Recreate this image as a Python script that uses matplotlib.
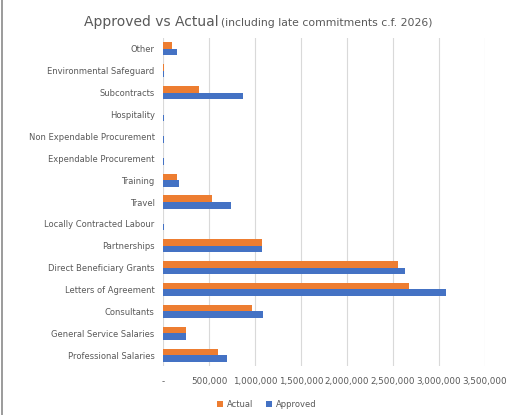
import matplotlib
matplotlib.use("Agg")
import matplotlib.pyplot as plt
import numpy as np
from matplotlib.ticker import FuncFormatter
from matplotlib.lines import Line2D

categories = ["Other", "Environmental Safeguard", "Subcontracts", "Hospitality",
              "Non Expendable Procurement", "Expendable Procurement", "Training",
              "Travel", "Locally Contracted Labour", "Partnerships",
              "Direct Beneficiary Grants", "Letters of Agreement", "Consultants",
              "General Service Salaries", "Professional Salaries"]
actual = [95000, 6000, 395000, 5000, 5000, 5000, 155000, 529000, 5000,
          1073000, 2551000, 2670000, 964000, 247000, 594000]
approved = [155000, 8000, 873000, 6000, 6000, 6000, 177000, 739000, 6000,
            1073000, 2630000, 3073000, 1083000, 247000, 699000]
xticks = [0, 500000, 1000000, 1500000, 2000000, 2500000, 3000000, 3500000]

c_act = "#ED7D31"
c_app = "#4472C4"
txt = "#595959"

fig = plt.figure(figsize=(5.13, 4.15), dpi=100)
ax = fig.add_axes([163/513, 1-366/415, (485-163)/513, (366-38)/415])

n = len(categories)
y = np.arange(n)
h = 0.3
ax.barh(y - h/2, actual, height=h, color=c_act, label="Actual", zorder=3)
ax.barh(y + h/2, approved, height=h, color=c_app, label="Approved", zorder=3)

ax.set_ylim(n - 0.5, -0.5)
ax.set_yticks(y)
ax.set_yticklabels(categories, fontsize=6, color=txt)
ax.set_xlim(0, 3500000)
ax.set_xticks(xticks)
ax.xaxis.set_major_formatter(FuncFormatter(lambda v, p: "-" if v == 0 else f"{int(v):,}"))
ax.tick_params(axis="x", labelsize=6.3, colors=txt, length=0, pad=8)
ax.tick_params(axis="y", length=0, pad=6)
ax.grid(axis="x", color="#d9d9d9", linewidth=0.8, zorder=0)
for s in ax.spines.values():
    s.set_visible(False)

fig.text(219/513, 0.947, "Approved vs Actual", fontsize=10, color=txt, ha="right", va="center")
fig.text(221/513, 0.945, "(including late commitments c.f. 2026)", fontsize=7.8, color=txt, ha="left", va="center")

fig.legend(loc="center", bbox_to_anchor=(0.52, 0.025), ncol=2, frameon=False,
           fontsize=6, labelcolor=txt, handlelength=0.7, handleheight=0.7,
           columnspacing=1.5, handletextpad=0.5)

fig.add_artist(Line2D([0.003, 0.003], [0, 1], transform=fig.transFigure, color="#8a8a8a", linewidth=1.2))

fig.savefig("out.png", dpi=100)
